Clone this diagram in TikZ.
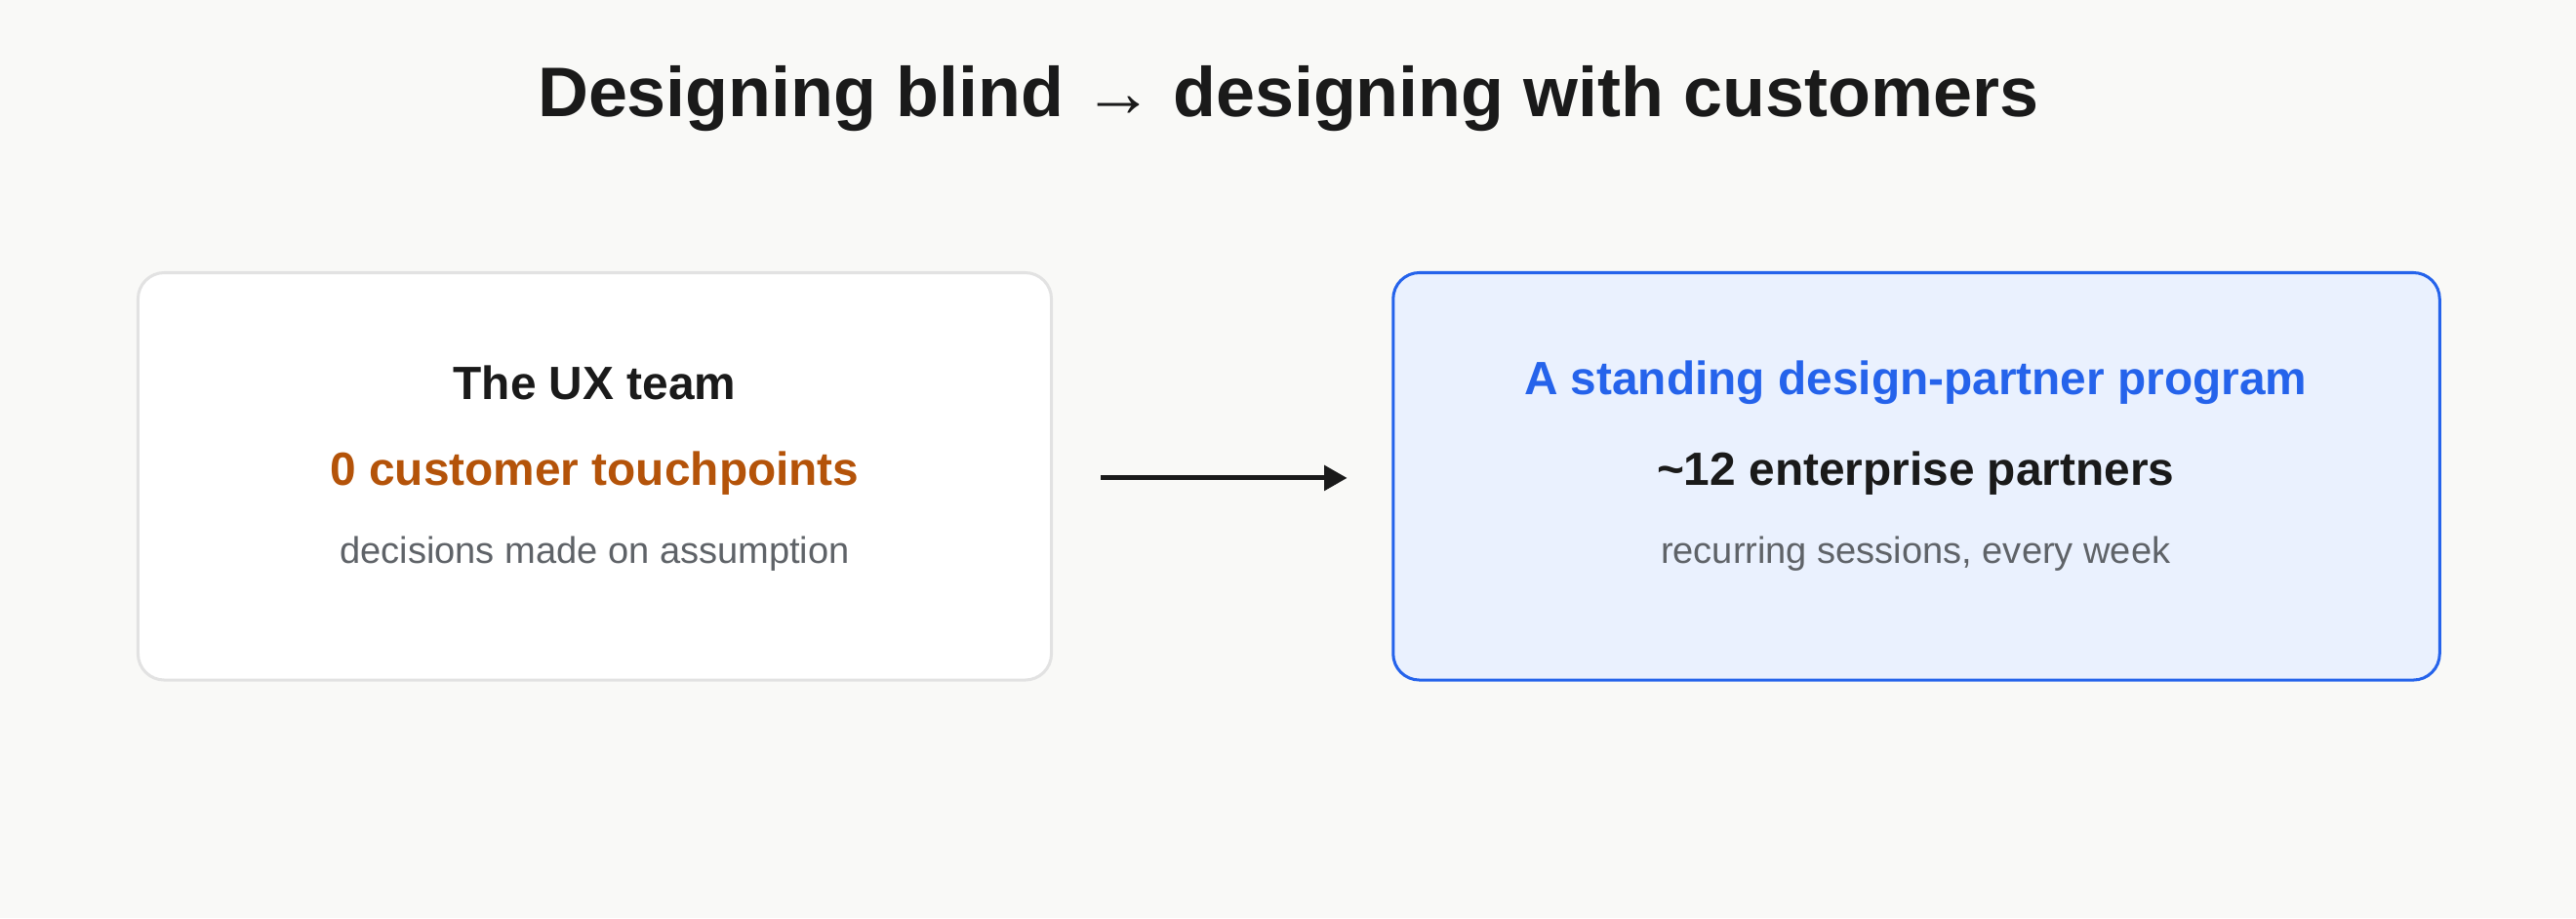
\documentclass[tikz,border=0pt]{standalone}
\usepackage{fontspec}
\setmainfont{Liberation Sans}
\usetikzlibrary{arrows.meta}
\definecolor{bg}{HTML}{F9F9F7}
\definecolor{graybd}{HTML}{E2E2E2}
\definecolor{bluebd}{HTML}{2563EB}
\definecolor{bluefill}{HTML}{EAF1FE}
\definecolor{orangetx}{HTML}{B45309}
\definecolor{darktx}{HTML}{1A1A1A}
\definecolor{graytx}{HTML}{5F6368}
\tikzset{
  card/.style={rounded corners=16pt, line width=1.8pt},
  head/.style={font=\bfseries\fontsize{28.4}{34}\selectfont, anchor=center},
  sub/.style={font=\fontsize{22.6}{26}\selectfont, text=graytx, anchor=center},
}
\begin{document}
\begin{tikzpicture}[x=1pt,y=-1pt]
\fill[bg] (0,0) rectangle (1568,559);
\useasboundingbox (0,0) rectangle (1568,559);
\node[font=\bfseries\fontsize{42.7}{48}\selectfont, text=darktx] (title) at (784,60) {Designing blind → designing with customers};
\draw[card, draw=graybd, fill=white] (84,166) rectangle (640,414);
\coordinate (L) at (640,291);
\draw[card, draw=bluebd, fill=bluefill] (848,166) rectangle (1485,414);
\coordinate (R) at (848,291);
\node[head, text=darktx] (l1) at (362,233) {The UX team};
\node[head, text=orangetx] (l2) at (362,288) {0 customer touchpoints};
\node[sub] (l3) at (362,337) {decisions made on assumption};
\node[head, text=bluebd] (r1) at (1166,233) {A standing design-partner program};
\node[head, text=darktx] (r2) at (1166,288) {\textasciitilde12 enterprise partners};
\node[sub] (r3) at (1166,337) {recurring sessions, every week};
\coordinate (a1) at (670,291);
\coordinate (a2) at (820,291);
\draw[line width=3pt, darktx, -{Triangle[length=14pt,width=15pt]}] (a1) -- (a2);
\end{tikzpicture}
\end{document}
